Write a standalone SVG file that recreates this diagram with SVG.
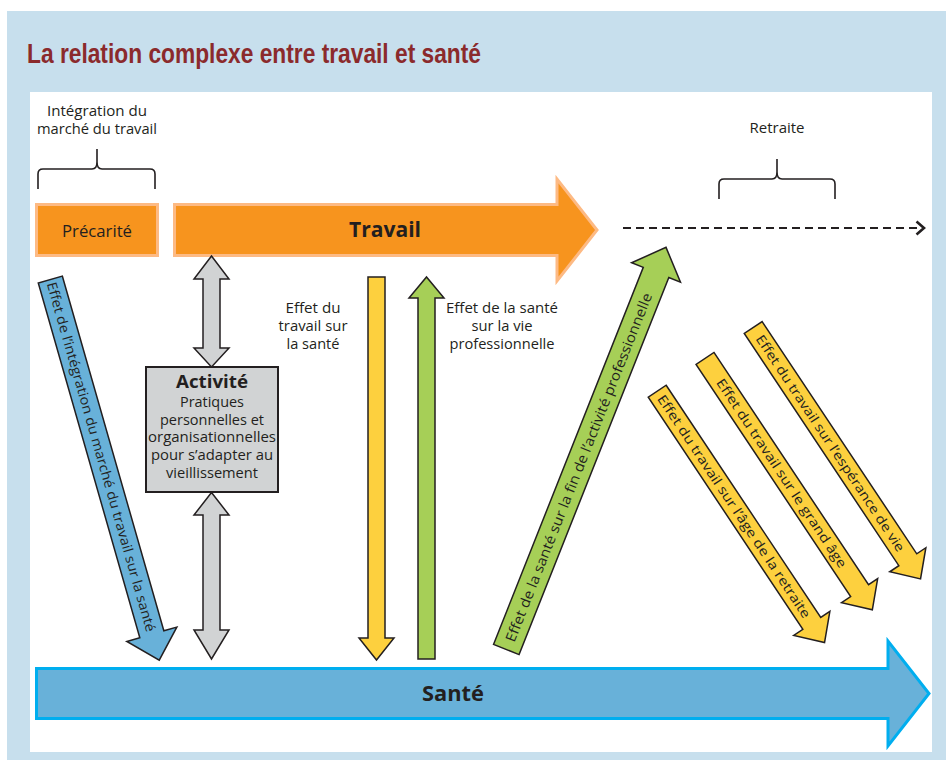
<svg xmlns="http://www.w3.org/2000/svg" width="946" height="760" viewBox="0 0 946 760">
<style>
.t{font-family:"Open Sans","Noto Sans","DejaVu Sans",sans-serif;fill:#231f20}
.lbl{font-size:14.5px;text-anchor:middle}
.sm{font-size:13.8px;text-anchor:middle}
.dlab{font-size:13.5px}
.bold{font-weight:bold}
.ol{stroke:#231f20;stroke-width:1.5;stroke-linejoin:miter}
.grey{fill:#d1d3d4}
.yel{fill:#fdd03e}
.grn{fill:#a6cf57}
.blu{fill:#68b1d9}
.org{fill:#f7941e;stroke:#fdba84;stroke-width:3}
.brace{fill:none;stroke:#231f20;stroke-width:1.6}
</style>
<rect x="0" y="0" width="946" height="760" fill="#ffffff"/>
<rect x="7" y="11" width="939" height="749" fill="#c7dfed"/>
<rect x="30" y="92" width="902" height="660" fill="#ffffff"/>

<g id="title">
<text x="27" y="63" font-family="'Liberation Sans Narrow','Liberation Sans',Arial,sans-serif" font-weight="bold" font-size="28" fill="#8b2a2c" textLength="454" lengthAdjust="spacingAndGlyphs">La relation complexe entre travail et santé</text>
</g>

<g id="integration">
<text class="t sm" x="97" y="115.5" textLength="100" lengthAdjust="spacingAndGlyphs">Intégration du</text>
<text class="t sm" x="97" y="133.5" textLength="120" lengthAdjust="spacingAndGlyphs">marché du travail</text>
<path class="brace" d="M38,189 V174 Q38,169 43,169 H92 Q97,169 97,162 V149 M97,162 Q97,169 102,169 H150 Q155,169 155,174 V189"/>
</g>

<g id="retraite">
<text class="t lbl" x="777" y="133" textLength="55" lengthAdjust="spacingAndGlyphs">Retraite</text>
<path class="brace" d="M719,199 V184 Q719,179 724,179 H772 Q777,179 777,172 V159 M777,172 Q777,179 782,179 H830 Q835,179 835,184 V199"/>
</g>

<g id="precarite">
<rect class="org" x="36.5" y="204.5" width="121" height="51"/>
<text class="t" x="97" y="237" font-size="16.5" text-anchor="middle" textLength="70" lengthAdjust="spacingAndGlyphs">Précarité</text>
</g>

<g id="travail">
<path class="org" d="M174.5,204.5 H557 V179 L597,230 L557,281 V255.5 H174.5 Z"/>
<text class="t bold" x="385" y="237" font-size="21.5" text-anchor="middle" textLength="72" lengthAdjust="spacingAndGlyphs">Travail</text>
</g>

<g id="activite">
<rect class="grey" x="146" y="367" width="132" height="125" stroke="#231f20" stroke-width="2"/>
<text class="t bold" x="212" y="388" font-size="18.5" text-anchor="middle" textLength="72" lengthAdjust="spacingAndGlyphs">Activité</text>
<text class="t sm" x="212" y="407" textLength="64" lengthAdjust="spacingAndGlyphs">Pratiques</text>
<text class="t sm" x="212" y="424.5" textLength="104" lengthAdjust="spacingAndGlyphs">personnelles et</text>
<text class="t sm" x="212" y="442" textLength="128" lengthAdjust="spacingAndGlyphs">organisationnelles</text>
<text class="t sm" x="212" y="459.5" textLength="122" lengthAdjust="spacingAndGlyphs">pour s’adapter au</text>
<text class="t sm" x="212" y="477.5" textLength="92" lengthAdjust="spacingAndGlyphs">vieillissement</text>
</g>

<g id="sante">
<path d="M36.5,668.5 H888 V641 L929,693.5 L888,746 V718.5 H36.5 Z" fill="#68b1d9" stroke="#00aeef" stroke-width="3"/>
<text class="t bold" x="453" y="701" font-size="21.5" text-anchor="middle" textLength="62" lengthAdjust="spacingAndGlyphs">Santé</text>
</g>

<g id="connectors">
<path class="grey ol" d="M211.5,256 L229,279 L220,279 L220,348 L229,348 L211.5,367 L194,348 L203,348 L203,279 L194,279 Z"/>
<path class="grey ol" d="M211.5,492.5 L229,515 L220,515 L220,630 L229,630 L211.5,659 L194,630 L203,630 L203,515 L194,515 Z"/>
<path class="yel ol" d="M368,277 H385 V638 H394 L376.5,660 L359,638 H368 Z"/>
<path class="grn ol" d="M418,659 V298 H409 L426.5,277 L444,298 H435 V659 Z"/>
<text class="t lbl" x="313" y="313" textLength="55" lengthAdjust="spacingAndGlyphs">Effet du</text>
<text class="t lbl" x="313" y="331" textLength="69" lengthAdjust="spacingAndGlyphs">travail sur</text>
<text class="t lbl" x="313" y="349" textLength="53" lengthAdjust="spacingAndGlyphs">la santé</text>
<text class="t lbl" x="502" y="313" textLength="112" lengthAdjust="spacingAndGlyphs">Effet de la santé</text>
<text class="t lbl" x="502" y="331" textLength="61" lengthAdjust="spacingAndGlyphs">sur la vie</text>
<text class="t lbl" x="502" y="349" textLength="105" lengthAdjust="spacingAndGlyphs">professionnelle</text>
<g transform="translate(50.3,279.5) rotate(74.03)">
<path class="blu ol" d="M0,-12.5 L369,-12.5 L369,-26 L396,0 L369,26 L369,12.5 L0,12.5 Z"/>
<text class="t dlab" x="3" y="4.6" textLength="363" lengthAdjust="spacingAndGlyphs">Effet de l’intégration du marché du travail sur la santé</text>
</g>
<g transform="translate(506.3,649.5) rotate(-68.34)">
<path class="grn ol" d="M0,-13.75 L405.7,-13.75 L405.7,-26.3 L432.7,0 L405.7,26.3 L405.7,13.75 L0,13.75 Z"/>
<text class="t" font-size="14" x="9" y="5" textLength="374" lengthAdjust="spacingAndGlyphs">Effet de la santé sur la fin de l’activité professionnelle</text>
</g>
<g transform="translate(657.2,391.2) rotate(56.35)">
<path class="yel ol" d="M0,-10.75 L279,-10.75 L279,-21.7 L302,0 L279,21.7 L279,10.75 L0,10.75 Z"/>
<text class="t" font-size="13" x="6" y="4.5" textLength="265" lengthAdjust="spacingAndGlyphs">Effet du travail sur l’âge de la retraite</text>
</g>
<g transform="translate(705,358.4) rotate(56.35)">
<path class="yel ol" d="M0,-10.75 L279,-10.75 L279,-21.7 L302,0 L279,21.7 L279,10.75 L0,10.75 Z"/>
<text class="t" font-size="13" x="26" y="4.5" textLength="224" lengthAdjust="spacingAndGlyphs">Effet du travail sur le grand âge</text>
</g>
<g transform="translate(753.2,327.5) rotate(56.35)">
<path class="yel ol" d="M0,-10.75 L279,-10.75 L279,-21.7 L302,0 L279,21.7 L279,10.75 L0,10.75 Z"/>
<text class="t" font-size="13" x="10.6" y="4.5" textLength="257" lengthAdjust="spacingAndGlyphs">Effet du travail sur l’espérance de vie</text>
</g>
<line x1="623" y1="228" x2="922" y2="228" stroke="#231f20" stroke-width="2" stroke-dasharray="8 5"/>
<path d="M916.5,221.5 L924,228 L916.5,234.5" fill="none" stroke="#231f20" stroke-width="2.6"/>
</g>
</svg>
